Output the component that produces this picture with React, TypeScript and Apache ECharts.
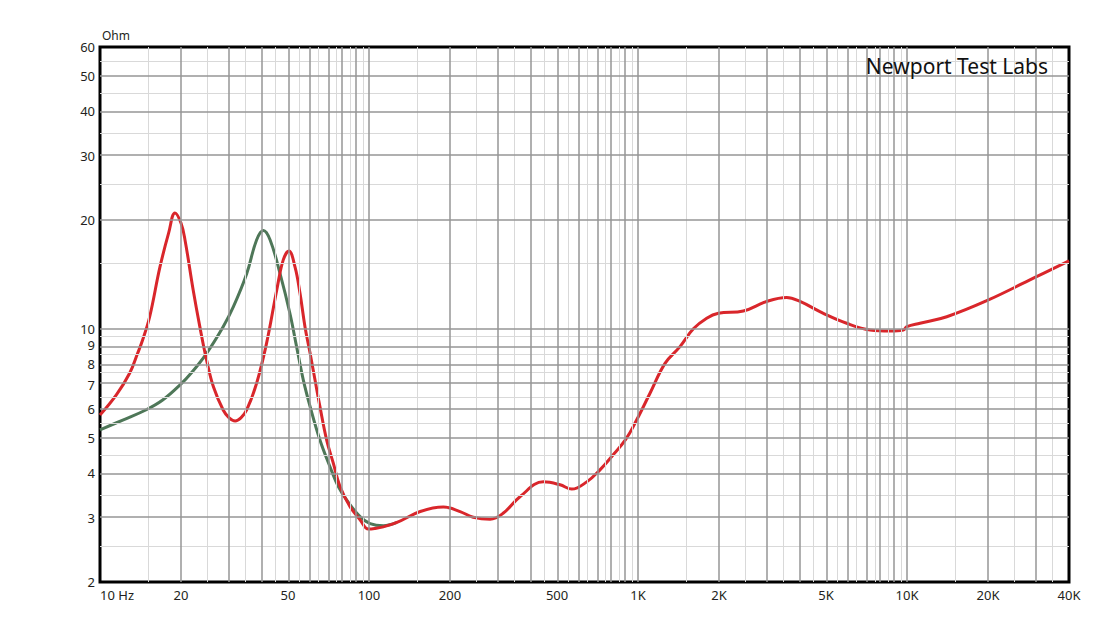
import React, { useEffect, useRef } from "react";
import * as echarts from "echarts";

// Frequency ticks (Hz) and their labels
const xTickValues = [10, 20, 50, 100, 200, 500, 1000, 2000, 5000, 10000, 20000, 40000];
const xTickLabels = ["10 Hz", "20", "50", "100", "200", "500", "1K", "2K", "5K", "10K", "20K", "40K"];
// Impedance ticks (Ohm)
const yTickValues = [2, 3, 4, 5, 6, 7, 8, 9, 10, 20, 30, 40, 50, 60];

// Red trace
const redFreq = [10, 11.5, 12.9, 13.8, 14.4, 15.3, 16.7, 18.0, 19.0, 20.0, 20.7, 22.2, 23.5, 24.9, 26.4, 28.7, 30.2, 31.8, 33.4, 35.1, 38.2, 41.6, 45.4, 48.0, 50.4, 53.1, 55.4, 57.8, 60.4, 63.0, 65.7, 69.6, 73.7, 78, 85.0, 92.6, 99.4, 105, 113, 127, 155, 189, 218, 244, 282, 316, 364, 445, 513, 567, 645, 722, 800, 900, 988, 1108, 1260, 1432, 1606, 1800, 1989, 2463, 3008, 3570, 4000, 4886, 5965, 7288, 8646, 9690, 9990, 11177, 14050, 19786, 29490, 40000];
const redOhm = [5.78, 6.57, 7.55, 8.56, 9.32, 10.8, 14.8, 18.4, 20.9, 19.6, 17.6, 12.8, 10.14, 8.2, 6.92, 5.97, 5.68, 5.57, 5.68, 5.97, 7.07, 9.12, 12.8, 15.5, 16.4, 14.8, 12.53, 10.14, 8.56, 7.22, 6.1, 4.93, 4.25, 3.67, 3.23, 2.97, 2.80, 2.81, 2.84, 2.92, 3.13, 3.22, 3.13, 3.02, 2.98, 3.10, 3.44, 3.78, 3.71, 3.61, 3.78, 4.08, 4.45, 4.95, 5.6, 6.64, 8.03, 8.93, 10.0, 10.7, 11.04, 11.2, 11.9, 12.2, 11.9, 11.04, 10.36, 9.93, 9.86, 9.93, 10.14, 10.36, 10.8, 11.96, 13.8, 15.4];

// Green trace
const greenFreq = [10, 12.15, 14.8, 17.1, 19.84, 22.0, 24.9, 28.7, 31.3, 35.1, 38.2, 40.5, 42.9, 46.7, 50.8, 53.8, 57.0, 60.4, 65.7, 71.6, 76.9, 82.8, 92.6, 100.9, 113, 127];
const greenOhm = [5.26, 5.60, 5.97, 6.36, 7.0, 7.6, 8.56, 10.14, 11.5, 14.2, 17.6, 18.7, 17.6, 14.2, 11.04, 8.93, 7.22, 6.1, 4.93, 4.16, 3.67, 3.36, 3.03, 2.90, 2.86, 2.92];

const FONT = "'Noto Sans', 'Open Sans', sans-serif";
const lg = (v: number) => Math.log10(v);

function gridValues(lo: number, hi: number) {
  const major: number[] = [];
  const minor: number[] = [];
  for (let d = 1; d <= 100000; d *= 10) {
    for (let m = 1; m <= 9; m++) {
      const a = m * d;
      const b = (m + 0.5) * d;
      if (a > lo * 1.0001 && a < hi * 0.9999) major.push(a);
      if (b > lo * 1.0001 && b < hi * 0.9999) minor.push(b);
    }
  }
  return { major, minor };
}

export default function App() {
  const ref = useRef<HTMLDivElement>(null);
  useEffect(() => {
    if (!ref.current) return;
    const chart = echarts.init(ref.current, undefined, { renderer: "svg" });
    const gx = gridValues(10, 40000);
    const gy = gridValues(2, 60);
    const minorStyle = { color: "#d9d9d9", width: 1, type: "solid" as const };
    const majorStyle = { color: "#969696", width: 1.5, type: "solid" as const };
    const mkLines = (xs: number[], ys: number[], style: any) => [
      ...xs.map((v) => ({ xAxis: lg(v), lineStyle: style })),
      ...ys.map((v) => ({ yAxis: lg(v), lineStyle: style })),
    ];
    const markLineBase = {
      silent: true,
      symbol: ["none", "none"],
      label: { show: false },
      animation: false,
    };
    chart.setOption({
      animation: false,
      title: {
        text: "Newport Test Labs",
        right: 57,
        top: 50,
        textStyle: { fontSize: 21, fontWeight: "normal", color: "#111", fontFamily: FONT },
      },
      grid: {
        left: 100,
        top: 47,
        right: 41,
        bottom: 43,
        show: true,
        borderColor: "#000",
        borderWidth: 3,
        backgroundColor: "transparent",
      },
      xAxis: {
        type: "value",
        min: lg(10),
        max: lg(40000),
        axisLine: { show: false },
        axisTick: { show: false },
        splitLine: { show: false },
        axisLabel: {
          customValues: xTickValues.map(lg),
          alignMinLabel: "left",
          margin: 6,
          fontSize: 13,
          color: "#231f20",
          fontFamily: FONT,
          formatter: (v: number) => {
            let best = 0;
            let bd = Infinity;
            xTickValues.forEach((t, i) => {
              const d = Math.abs(lg(t) - v);
              if (d < bd) {
                bd = d;
                best = i;
              }
            });
            return xTickLabels[best];
          },
        },
      },
      yAxis: {
        type: "value",
        min: lg(2),
        max: lg(60),
        name: "Ohm",
        nameLocation: "end",
        nameGap: 6,
        nameTextStyle: { align: "left", fontSize: 12, color: "#231f20", fontFamily: FONT, padding: [0, 0, 0, 2] },
        axisLine: { show: false },
        axisTick: { show: false },
        splitLine: { show: false },
        axisLabel: {
          customValues: yTickValues.map(lg),
          margin: 5,
          fontSize: 13,
          color: "#231f20",
          fontFamily: FONT,
          formatter: (v: number) => String(Math.round(Math.pow(10, v))),
        },
      },
      series: [
        {
          type: "line",
          data: [],
          z: -2,
          silent: true,
          markLine: { ...markLineBase, data: mkLines(gx.minor, gy.minor, minorStyle) },
        },
        {
          type: "line",
          data: [],
          z: -1,
          silent: true,
          markLine: { ...markLineBase, data: mkLines(gx.major, gy.major, majorStyle) },
        },
        {
          name: "green",
          type: "line",
          data: greenFreq.map((f, i) => [lg(f), lg(greenOhm[i])]),
          showSymbol: false,
          smooth: 0.4,
          lineStyle: { color: "#4e7758", width: 3 },
          z: 3,
        },
        {
          name: "red",
          type: "line",
          data: redFreq.map((f, i) => [lg(f), lg(redOhm[i])]),
          showSymbol: false,
          smooth: 0.4,
          lineStyle: { color: "#d9262b", width: 3 },
          z: 4,
        },
      ],
    });
    return () => chart.dispose();
  }, []);
  return <div ref={ref} style={{ width: 1110, height: 625, margin: -8 }} />;
}
